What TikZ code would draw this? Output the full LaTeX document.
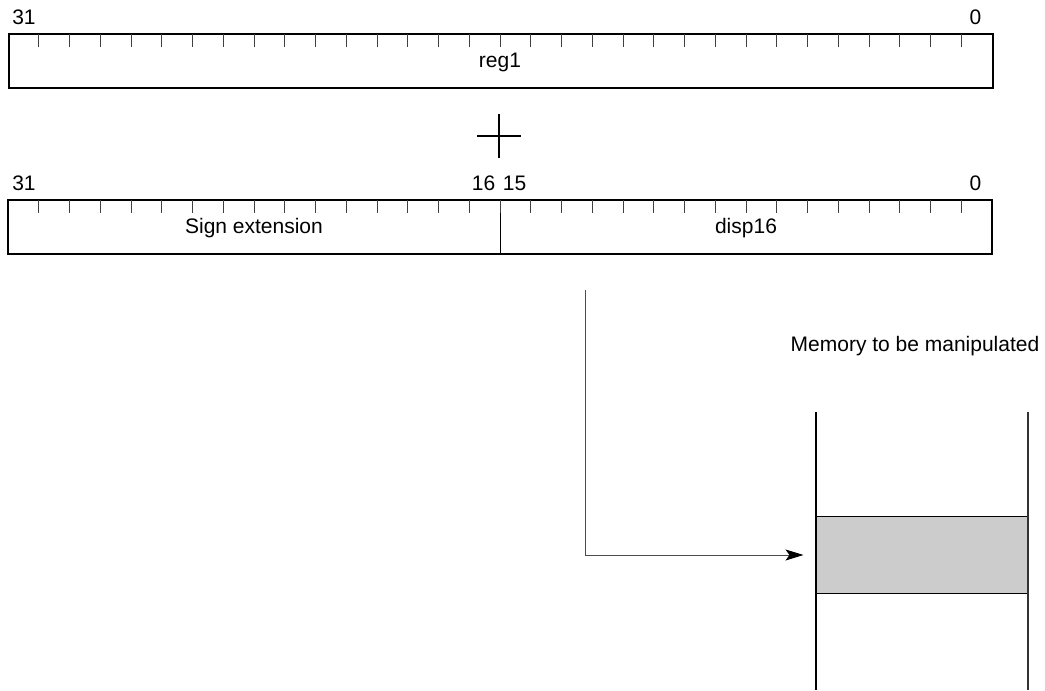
\documentclass[tikz,border=0pt]{standalone}
\usepackage{fontspec}
\setmainfont{Liberation Sans}
\usetikzlibrary{arrows.meta}
\begin{document}
\begin{tikzpicture}[x=1pt,y=-1pt,
  bar/.style={draw, line width=2pt, minimum height=54pt, inner sep=0pt, anchor=west},
  half/.style={draw, line width=0.8pt, minimum height=54pt, inner sep=0pt, anchor=west},
  tick/.style={line width=0.9pt, draw=black!75},
  lbl/.style={font=\fontsize{21}{24}\selectfont, inner sep=0pt, anchor=base},
  memline/.style={line width=2pt},
  arr/.style={draw=black!70, line width=1pt, -{Stealth[length=18pt,width=11pt,inset=4pt,black]}, shorten >=12pt}]
\useasboundingbox (0,0) rectangle (1045,691);
% register bar
\node[bar, minimum width=984pt] (reg) at (8,61) {};
\node[lbl] (regtxt) at (500,67) {reg1};
\foreach \i in {1,...,31} \draw[tick] (8+\i*30.75,34) -- ++(0,13);
\node[lbl] (r31) at (24,24.5) {31};
\node[lbl] (r0) at (975.5,24.5) {0};
% plus
\draw[line width=1.5pt] (477,136) -- (521,136);
\draw[line width=1.5pt] (499,114) -- (499,158);
% second bar
\node[half, minimum width=492pt] (sign) at (8,227) {};
\node[half, minimum width=492pt] (disp) at (500,227) {};
\draw[line width=2pt] (8,200) rectangle (992,254);
\node[lbl] (signtxt) at (254,233) {Sign extension};
\node[lbl] (disptxt) at (746,233) {disp16};
\foreach \i in {1,...,31} \draw[tick] (8+\i*30.75,200) -- ++(0,13);
\node[lbl] (s31) at (24,190.5) {31};
\node[lbl] (s16) at (483.5,190.5) {16};
\node[lbl] (s15) at (514.5,190.5) {15};
\node[lbl] (s0) at (975.5,190.5) {0};
% memory
\node[lbl] (memtxt) at (915,351.5) {Memory to be manipulated};
\node[draw, fill=black!20, line width=1pt, minimum width=212pt, minimum height=77pt, inner sep=0pt] (mem) at (922,555) {};
\draw[memline] (816,412) -- (816,690);
\draw[memline, draw=black!80] (1028,412) -- (1028,690);
% arrow
\coordinate (start) at (585,290);
\draw[arr] (start) |- (mem.west);
\end{tikzpicture}
\end{document}
